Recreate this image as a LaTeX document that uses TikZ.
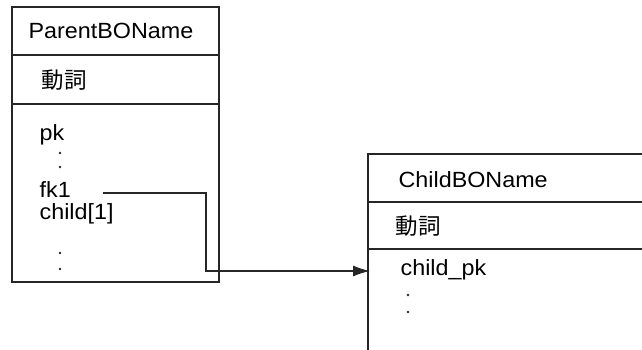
\documentclass[tikz,border=0pt]{standalone}
\usepackage{fontspec}
\setmainfont{Liberation Sans}
\newfontfamily\jpfont{Noto Sans CJK JP}
\usepackage{tikz}
\usetikzlibrary{arrows.meta}

\begin{document}
\begin{tikzpicture}[
  x=1pt,y=-1pt,
  line width=1.2pt,
  label/.style={anchor=base west,inner sep=0pt,xscale=1.06,font=\fontsize{22}{26}\selectfont},
  verb/.style={anchor=west,inner sep=0pt,font=\fontsize{22.5}{26}\selectfont\jpfont},
  box/.style={draw=black!85,rectangle,line width=1.4pt,inner sep=0pt,outer sep=0pt,minimum width=207pt,minimum height=275pt,anchor=north west},
  rule/.style={draw=black!85,line width=1.2pt},
  link/.style={draw=black!85,line width=1.2pt,-{Latex[length=17pt,width=11pt]}}]
      \useasboundingbox (0,0) rectangle (642,350);

     % parent
     \node [box] (P) at (12,7) {};
     \draw[rule] (P.west |- 0,55) -- (P.east |- 0,55);
     \draw[rule] (P.west |- 0,104) -- (P.east |- 0,104);
     \node [label] (Pname) at (28,39) {ParentBOName};
     \node [verb] (Pverb) at (41,80) {動詞};
     \node [label] (pk) at (39,140) {pk};
     \node [label] (fk) at (39,197) {fk1};
     \node [label] (ch) at (39,219) {child[1]};
     \foreach \y in {153,167,253,269}
	\fill[black!85] (60,\y) circle (1.4pt);

     % child
     \draw[rule,line width=1.4pt] (642,154) -- (368,154) -- (368,350);
     \draw[rule] (368,202) -- (642,202);
     \draw[rule] (368,249) -- (642,249);
     \node [label] (Cname) at (398,187) {ChildBOName};
     \node [verb] (Cverb) at (395,226) {動詞};
     \node [label] (cpk) at (400,275) {child\_pk};
     \foreach \y in {295,312}
	\fill[black!85] (408,\y) circle (1.4pt);

     \coordinate (out) at (103,193);
     \coordinate (bend) at (206,193);
     \coordinate (in) at (370,271);
     \draw[link] (out) -- (bend) |- (in);

  \end{tikzpicture}
\end{document}
